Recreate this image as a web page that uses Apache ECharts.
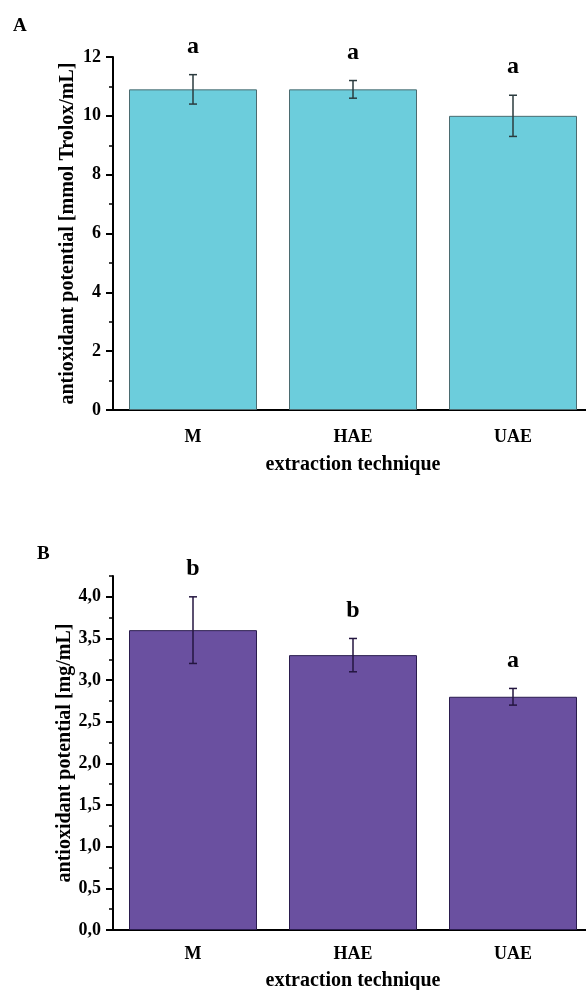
<!DOCTYPE html>
<html>
<head>
<meta charset="utf-8">
<script src="https://cdn.jsdelivr.net/npm/echarts@6/dist/echarts.min.js"></script>
<style>
  html, body { margin: 0; padding: 0; background: #fff; }
  #chart { width: 586px; height: 990px; }
</style>
</head>
<body>
<div id="chart"></div>
<script>
// data
const categories = [`M`, `HAE`, `UAE`];

const meanA = [10.9, 10.9, 10.0];
const sdA = [0.5, 0.3, 0.7];
const lettersA = [`a`, `a`, `a`];
const ticksA = [0, 2, 4, 6, 8, 10, 12];

const meanB = [3.6, 3.3, 2.8];
const sdB = [0.4, 0.2, 0.1];
const lettersB = [`b`, `b`, `a`];
const ticksB = [0, 0.5, 1.0, 1.5, 2.0, 2.5, 3.0, 3.5, 4.0];

const serif = `"Liberation Serif", "Times New Roman", serif`;
const black = `#000`;

const chart = echarts.init(document.getElementById(`chart`));

function xAxes(gridIndex, labelMargin, nameGap) {
  return [
    {
      type: `category`,
      gridIndex: gridIndex,
      position: `bottom`,
      data: categories,
      axisLine: { lineStyle: { color: black, width: 2 } },
      axisTick: { alignWithLabel: true, length: 6, lineStyle: { color: black, width: 2 } },
      axisLabel: {
        color: black, fontFamily: serif, fontWeight: `bold`, fontSize: 18,
        margin: labelMargin
      },
      name: `extraction technique`,
      nameLocation: `middle`,
      nameGap: nameGap,
      nameMoveOverlap: false,
      nameTextStyle: { color: black, fontFamily: serif, fontWeight: `bold`, fontSize: 20 }
    },
    {
      // short ticks between categories
      type: `category`,
      gridIndex: gridIndex,
      position: `bottom`,
      offset: 0,
      data: categories,
      axisLine: { show: false },
      axisTick: { length: 3, lineStyle: { color: black, width: 2 } },
      axisLabel: { show: false }
    }
  ];
}

function yAxes(gridIndex, max, minorStep, majorTicks, name, fmt, nameGap) {
  return [
    {
      // minor ticks + axis line
      type: `value`,
      gridIndex: gridIndex,
      position: `left`,
      offset: 0,
      min: 0,
      max: max,
      interval: minorStep,
      axisLine: { show: true, lineStyle: { color: black, width: 2 } },
      axisTick: { show: true, length: 4, lineStyle: { color: black, width: 1.5 } },
      axisLabel: { show: false },
      splitLine: { show: false }
    },
    {
      // major ticks + labels
      type: `value`,
      gridIndex: gridIndex,
      position: `left`,
      offset: 0,
      min: 0,
      max: max,
      axisLine: { show: false },
      axisTick: { show: true, length: 7, customValues: majorTicks, lineStyle: { color: black, width: 2 } },
      axisLabel: {
        customValues: majorTicks,
        formatter: fmt,
        color: black, fontFamily: serif, fontWeight: `bold`, fontSize: 18, margin: 12
      },
      splitLine: { show: false },
      name: name,
      nameLocation: `middle`,
      nameGap: nameGap,
      nameMoveOverlap: false,
      nameTextStyle: { color: black, fontFamily: serif, fontWeight: `bold`, fontSize: 20 }
    }
  ];
}

function barSeries(axisIdx, yIdx, values, fill, border) {
  return {
    type: `bar`,
    xAxisIndex: axisIdx,
    yAxisIndex: yIdx,
    data: values,
    barWidth: `80%`,
    itemStyle: { color: fill, borderColor: border, borderWidth: 1 },
    silent: true
  };
}

function errorSeries(axisIdx, yIdx, values, sd, letters, color) {
  return {
    type: `custom`,
    xAxisIndex: axisIdx,
    yAxisIndex: yIdx,
    data: values.map((v, i) => [i, v, sd[i]]),
    z: 5,
    silent: true,
    renderItem: function (params, api) {
      const i = api.value(0);
      const hi = api.coord([i, api.value(1) + api.value(2)]);
      const lo = api.coord([i, api.value(1) - api.value(2)]);
      const cap = 4;
      const style = { stroke: color, lineWidth: 1.5 };
      return {
        type: `group`,
        children: [
          { type: `line`, shape: { x1: hi[0], y1: hi[1], x2: lo[0], y2: lo[1] }, style: style },
          { type: `line`, shape: { x1: hi[0] - cap, y1: hi[1], x2: hi[0] + cap, y2: hi[1] }, style: style },
          { type: `line`, shape: { x1: lo[0] - cap, y1: lo[1], x2: lo[0] + cap, y2: lo[1] }, style: style },
          {
            type: `text`,
            x: hi[0], y: hi[1] - 28,
            style: {
              text: letters[i], fill: black, font: `bold 24px ` + serif,
              align: `center`, verticalAlign: `middle`
            }
          }
        ]
      };
    }
  };
}

const fmtA = v => String(v);
const fmtB = v => v.toFixed(1).replace(`.`, `,`);

const option = {
  animation: false,
  backgroundColor: `#fff`,
  grid: [
    { left: 113, top: 57, width: 480, height: 353, outerBoundsMode: `none`, containLabel: false },
    { left: 113, top: 576, width: 480, height: 354, outerBoundsMode: `none`, containLabel: false }
  ],
  xAxis: [].concat(xAxes(0, 18, 45), xAxes(1, 15, 41)),
  yAxis: [].concat(
    yAxes(0, 12, 1, ticksA, `antioxidant potential [mmol Trolox/mL]`, fmtA, 35),
    yAxes(1, 4.25, 0.25, ticksB, `antioxidant potential [mg/mL]`, fmtB, 38)
  ),
  graphic: [
    { type: `text`, left: 13, top: 17, style: { text: `A`, font: `bold 19px ` + serif, fill: black } },
    { type: `text`, left: 37, top: 545, style: { text: `B`, font: `bold 19px ` + serif, fill: black } }
  ],
  series: [
    barSeries(0, 0, meanA, `#6ccddc`, `#4b6b70`),
    errorSeries(0, 0, meanA, sdA, lettersA, `#2b3b3e`),
    barSeries(2, 2, meanB, `#6a50a0`, `#2a1c4e`),
    errorSeries(2, 2, meanB, sdB, lettersB, `#241640`)
  ]
};

chart.setOption(option);
</script>
</body>
</html>
